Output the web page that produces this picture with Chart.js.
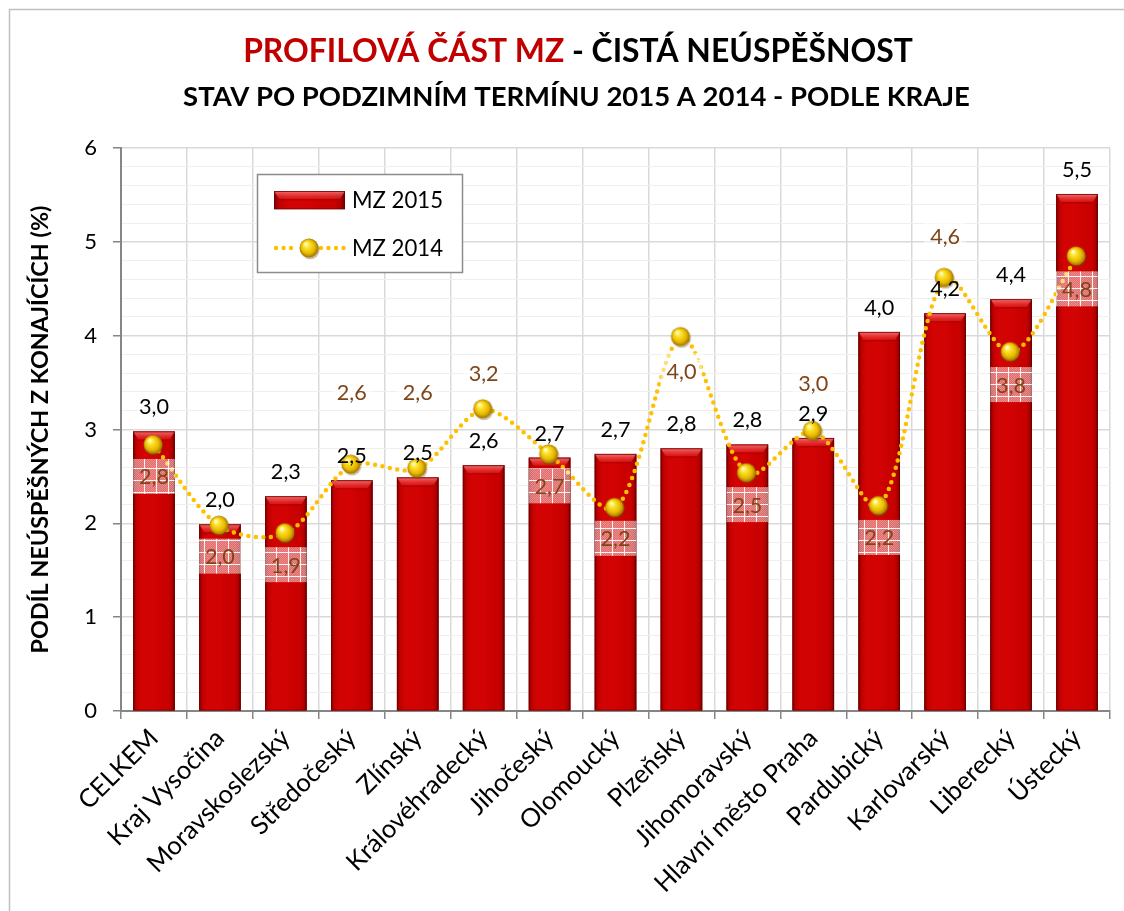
<!DOCTYPE html>
<html><head><meta charset="utf-8">
<script src="https://cdn.jsdelivr.net/npm/chart.js@4.4.1/dist/chart.umd.min.js"></script>
<style>html,body{margin:0;padding:0;background:#fff;}#wrap{width:1124px;height:911px;}</style>
</head><body><div id="wrap"><canvas id="c" width="1124" height="911"></canvas></div>
<script>
// ---------- data ----------
const categories = ['CELKEM','Kraj Vysočina','Moravskoslezský','Středočeský','Zlínský','Královéhradecký','Jihočeský','Olomoucký','Plzeňský','Jihomoravský','Hlavní město Praha','Pardubický','Karlovarský','Liberecký','Ústecký'];
const mz2015 = [2.98,1.99,2.29,2.46,2.49,2.62,2.70,2.74,2.80,2.84,2.91,4.04,4.24,4.39,5.51];
const mz2014 = [2.83,1.97,1.89,2.62,2.58,3.21,2.73,2.16,3.98,2.53,2.98,2.18,4.61,3.82,4.84];
const yTicks = [0,1,2,3,4,5,6];
const seriesNames = ['MZ 2015','MZ 2014'];
const titleRed = 'PROFILOVÁ ČÁST MZ';
const titleBlack = ' - ČISTÁ NEÚSPĚŠNOST';
const subtitleText = 'STAV PO PODZIMNÍM TERMÍNU 2015 A 2014 - PODLE KRAJE';
const yTitleText = 'PODÍL NEÚSPĚŠNÝCH Z KONAJÍCÍCH (%)';

// ---------- styling helpers ----------
const FAMILY = 'Lato, "Open Sans", sans-serif';
const mctx = document.createElement('canvas').getContext('2d');
function fitFont(text, weight, target){
  mctx.font = weight + ' 100px ' + FAMILY;
  return 100 * target / mctx.measureText(text).width;
}
const fmt = v => v.toFixed(1).replace('.', ',');
const TITLE_SIZE = fitFont(titleRed + titleBlack, 'bold', 670);
const SUB_SIZE = fitFont(subtitleText, 'bold', 787);
const YTITLE_SIZE = fitFont(yTitleText, 'bold', 448);
const XTICK_SIZE = fitFont('Moravskoslezský', '', 190);
const LABEL_SIZE = fitFont('3,0', '', 30);
const LEGEND_SIZE = fitFont('MZ 2015', '', 91);

function makeSphere(r){
  const s = Math.ceil(r*2+5), c = document.createElement('canvas');
  c.width = s; c.height = s;
  const g = c.getContext('2d'), cx = s/2 - 1, cy = s/2 - 1;
  g.beginPath(); g.arc(cx+1.2, cy+1.8, r, 0, Math.PI*2); g.fillStyle = 'rgba(110,70,0,0.35)'; g.fill();
  const gr = g.createRadialGradient(cx - r*0.35, cy - r*0.45, r*0.08, cx, cy, r);
  gr.addColorStop(0, '#FFFBD6'); gr.addColorStop(0.25, '#FFE530');
  gr.addColorStop(0.7, '#E8B800'); gr.addColorStop(1, '#9A7400');
  g.beginPath(); g.arc(cx, cy, r, 0, Math.PI*2); g.fillStyle = gr; g.fill();
  return c;
}
const sphere = makeSphere(9.5);

function makePattern(ctx){
  const p = document.createElement('canvas'); p.width = 12; p.height = 12;
  const g = p.getContext('2d');
  g.fillStyle = 'rgba(255,255,255,0.42)'; g.fillRect(0,0,12,12);
  g.fillStyle = 'rgba(255,255,255,0.22)';
  for (let i=0;i<12;i++) for (let j=0;j<12;j++) if ((i+j)%2===0) g.fillRect(i,j,1,1);
  g.fillStyle = 'rgba(255,255,255,0.9)'; g.fillRect(0,0,12,1); g.fillRect(0,0,1,12);
  return ctx.createPattern(p, 'repeat');
}

function drawBevelBar(ctx, left, top, w, bottom){
  const h = bottom - top;
  ctx.save();
  ctx.fillStyle = '#CE0000'; ctx.fillRect(left, top, w, h);
  const hg = ctx.createLinearGradient(left, 0, left + w, 0);
  hg.addColorStop(0, 'rgba(60,0,0,0.55)'); hg.addColorStop(0.07, 'rgba(60,0,0,0.12)');
  hg.addColorStop(0.2, 'rgba(255,40,40,0.08)'); hg.addColorStop(0.5, 'rgba(255,30,30,0.10)');
  hg.addColorStop(0.86, 'rgba(60,0,0,0.04)'); hg.addColorStop(0.94, 'rgba(60,0,0,0.22)');
  hg.addColorStop(1, 'rgba(40,0,0,0.6)');
  ctx.fillStyle = hg; ctx.fillRect(left, top, w, h);
  const b = Math.min(8, h/2);
  const vg = ctx.createLinearGradient(0, top, 0, top + b);
  vg.addColorStop(0, 'rgba(255,150,150,0.75)'); vg.addColorStop(1, 'rgba(240,50,50,0.35)');
  ctx.beginPath(); ctx.moveTo(left, top); ctx.lineTo(left + w, top);
  ctx.lineTo(left + w - 5, top + b); ctx.lineTo(left + 5, top + b); ctx.closePath();
  ctx.fillStyle = vg; ctx.fill();
  ctx.fillStyle = 'rgba(90,0,0,0.22)'; ctx.fillRect(left + 5, top + b, w - 10, 1.5);
  ctx.strokeStyle = 'rgba(110,0,0,0.8)'; ctx.lineWidth = 1;
  ctx.strokeRect(left + 0.5, top + 0.5, w - 1, h - 0.5);
  ctx.restore();
}

// ---------- plugins ----------
const decorPlugin = {
  id: 'decor',
  beforeDraw(chart){
    const ctx = chart.ctx;
    ctx.save();
    ctx.fillStyle = '#fff'; ctx.fillRect(0, 0, chart.width, chart.height);
    ctx.strokeStyle = '#BFBFBF'; ctx.lineWidth = 1.5;
    ctx.strokeRect(9.5, 9.5, chart.width + 20, chart.height + 20);
    ctx.textBaseline = 'middle';
    ctx.font = 'bold ' + TITLE_SIZE + 'px ' + FAMILY;
    const w1 = ctx.measureText(titleRed).width, w2 = ctx.measureText(titleBlack).width;
    const cx = 578, x0 = cx - (w1 + w2) / 2;
    ctx.textAlign = 'left';
    ctx.fillStyle = '#C00000'; ctx.fillText(titleRed, x0, 52);
    ctx.fillStyle = '#000'; ctx.fillText(titleBlack, x0 + w1, 52);
    ctx.font = 'bold ' + SUB_SIZE + 'px ' + FAMILY;
    ctx.textAlign = 'center';
    ctx.fillText(subtitleText, 576.5, 97);
    ctx.restore();
  },
  afterDatasetDraw(chart, args){
    if (args.meta.type !== 'bar') return;
    const ctx = chart.ctx;
    args.meta.data.forEach(el => {
      drawBevelBar(ctx, el.x - el.width/2, el.y, el.width, el.base);
    });
  },
  afterDatasetsDraw(chart, args, opts){
    const ctx = chart.ctx;
    const bars = chart.getDatasetMeta(1).data;
    const pts = chart.getDatasetMeta(0).data;
    const pattern = makePattern(ctx);
    ctx.save();
    ctx.textAlign = 'center'; ctx.textBaseline = 'middle';
    ctx.font = LABEL_SIZE + 'px ' + FAMILY;
    bars.forEach((el, i) => {
      ctx.fillStyle = '#000';
      ctx.fillText(fmt(mz2015[i]), el.x, el.y - opts.barLabelGap);
    });
    pts.forEach((el, i) => {
      const w = bars[i].width, h = opts.boxHeight;
      const cy = el.y + opts.offsets2014[i];
      ctx.fillStyle = pattern;
      ctx.fillRect(el.x - w/2, cy - h/2, w, h);
      ctx.fillStyle = '#7F4519';
      ctx.fillText(fmt(mz2014[i]), el.x, cy + 1);
    });
    ctx.restore();
  },
  afterDraw(chart){
    const ctx = chart.ctx, a = chart.chartArea;
    const lx = a.left + 136, ly = a.top + 26, lw = 205, lh = 98;
    ctx.save();
    ctx.fillStyle = '#fff'; ctx.fillRect(lx, ly, lw, lh);
    ctx.strokeStyle = '#8C8C8C'; ctx.lineWidth = 1.5; ctx.strokeRect(lx + 0.5, ly + 0.5, lw, lh);
    drawBevelBar(ctx, lx + 17, ly + 17, 71, ly + 35);
    ctx.fillStyle = '#FFC000';
    for (let x = lx + 19; x <= lx + 87; x += 7.5) {
      if (Math.abs(x - (lx + 52)) < 11) continue;
      ctx.beginPath(); ctx.arc(x, ly + 74, 2.2, 0, Math.PI*2); ctx.fill();
    }
    ctx.drawImage(sphere, lx + 52 - sphere.width/2 + 1, ly + 74 - sphere.height/2 + 1);
    ctx.fillStyle = '#000'; ctx.textAlign = 'left'; ctx.textBaseline = 'middle';
    ctx.font = LEGEND_SIZE + 'px ' + FAMILY;
    ctx.fillText(seriesNames[0], lx + 95, ly + 27);
    ctx.fillText(seriesNames[1], lx + 95, ly + 75);
    ctx.restore();
  }
};

const isMajor = v => yTicks.some(t => Math.abs(t - v) < 1e-6);

new Chart(document.getElementById('c'), {
  data: {
    labels: categories,
    datasets: [
      {
        type: 'line', label: seriesNames[1], data: mz2014, order: 0,
        borderColor: '#FFC000', borderWidth: 4.5, borderDash: [0, 7.5], borderCapStyle: 'round',
        tension: 0.3, fill: false,
        pointStyle: sphere, pointRadius: 9.5, pointHoverRadius: 9.5
      },
      {
        type: 'bar', label: seriesNames[0], data: mz2015, order: 1,
        backgroundColor: '#CE0000', borderWidth: 0,
        barPercentage: 0.63, categoryPercentage: 1
      }
    ]
  },
  options: {
    responsive: false, animation: false, devicePixelRatio: 1,
    layout: { padding: { top: 148, right: 10, left: 0, bottom: 0 } },
    plugins: {
      legend: { display: false }, tooltip: { enabled: false }, title: { display: false },
      decor: { barLabelGap: 24, boxHeight: 35,
        offsets2014: [31,30,31,-73,-77,-37,31,30,33,31,-48,31,-42,32,32] }
    },
    scales: {
      x: {
        offset: true,
        grid: { offset: true, color: '#D9D9D9', lineWidth: 1.5, tickLength: 8, tickColor: '#868686', tickWidth: 1.5 },
        border: { color: '#868686', width: 2 },
        ticks: { minRotation: 45, maxRotation: 45, autoSkip: false, color: '#000', padding: 4,
          font: { family: FAMILY, size: XTICK_SIZE } },
        afterFit: s => { s.height = 200; }
      },
      y: {
        min: yTicks[0], max: yTicks[yTicks.length - 1],
        grid: {
          color: c => isMajor(c.tick.value) ? '#D9D9D9' : '#EFEFEF',
          lineWidth: c => isMajor(c.tick.value) ? 1.5 : 1,
          tickLength: 8,
          tickColor: c => isMajor(c.tick.value) ? '#868686' : 'rgba(0,0,0,0)', tickWidth: 1.5
        },
        border: { color: '#868686', width: 2 },
        ticks: { stepSize: 0.2, autoSkip: false, color: '#000', padding: 16,
          font: { family: FAMILY, size: 22 },
          callback: v => isMajor(v) ? String(Math.round(v)) : '' },
        title: { display: true, text: yTitleText, color: '#000', padding: { top: 26, bottom: 0 },
          font: { family: FAMILY, size: YTITLE_SIZE, weight: 'bold' } },
        afterFit: s => { s.width = 121; }
      }
    }
  },
  plugins: [decorPlugin]
});
</script></body></html>
